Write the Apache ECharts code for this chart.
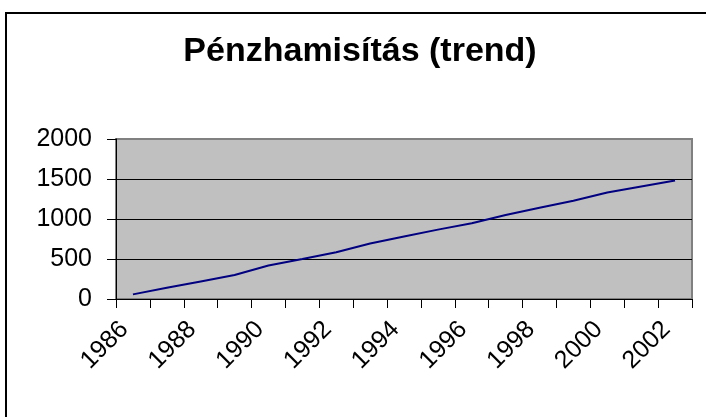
<!DOCTYPE html>
<html>
<head>
<meta charset="utf-8">
<script src="https://cdn.jsdelivr.net/npm/echarts@6/dist/echarts.min.js"></script>
<style>
  html, body { margin: 0; padding: 0; background: #fff; }
  #chart { width: 706px; height: 417px; }
</style>
</head>
<body>
<div id="chart"></div>
<script>
const years = ['1986', '1987', '1988', '1989', '1990', '1991', '1992', '1993', '1994',
  '1995', '1996', '1997', '1998', '1999', '2000', '2001', '2002'];
const cases = [58, 140, 220, 300, 419, 500, 585, 693, 780, 867, 946, 1050, 1141, 1228, 1332, 1407, 1481];
const yTicks = [0, 500, 1000, 1500, 2000];

const myChart = echarts.init(document.getElementById('chart'));
const option = {
  backgroundColor: '#fff',
  animation: false,
  title: {
    text: 'Pénzhamisítás (trend)',
    left: 355,
    top: 30,
    textAlign: 'center',
    textStyle: {
      fontFamily: 'Liberation Sans, Arial',
      fontSize: 34,
      fontWeight: 'bold',
      color: '#000',
    },
  },
  graphic: [
    {
      type: 'rect',
      shape: { x: 6, y: 13, width: 740, height: 440 },
      style: { fill: 'none', stroke: '#000', lineWidth: 2 },
      silent: true,
    },
  ],
  grid: {
    left: 116,
    right: 14,
    top: 139,
    bottom: 118,
    show: true,
    backgroundColor: '#C0C0C0',
    borderColor: '#808080',
    borderWidth: 2,
  },
  xAxis: {
    type: 'category',
    data: years,
    boundaryGap: true,
    axisLine: { lineStyle: { color: '#000', width: 1 } },
    axisTick: { show: true, length: 9, interval: 0, lineStyle: { color: '#000' } },
    axisLabel: {
      interval: 1,
      rotate: 45,
      margin: 18,
      padding: [0, 12, 0, 0],
      fontFamily: 'Liberation Sans, Arial',
      fontSize: 25,
      color: '#000',
    },
    splitLine: { show: false },
  },
  yAxis: {
    type: 'value',
    min: yTicks[0],
    max: yTicks[yTicks.length - 1],
    interval: 500,
    axisLine: { show: true, lineStyle: { color: '#000', width: 1 } },
    axisTick: { show: true, length: 9, lineStyle: { color: '#000' } },
    axisLabel: {
      margin: 24,
      formatter: (v) => String(v),
      fontFamily: 'Liberation Sans, Arial',
      fontSize: 25,
      color: '#000',
    },
    splitLine: {
      show: true,
      lineStyle: { color: ['#000', '#000', '#000', '#000', '#808080'], width: 1 },
    },
  },
  series: [
    {
      type: 'line',
      data: cases,
      showSymbol: false,
      symbol: 'none',
      lineStyle: { color: '#000080', width: 2 },
    },
  ],
};
myChart.setOption(option);
window.addEventListener('resize', () => {
  myChart.resize();
});
</script>
</body>
</html>
